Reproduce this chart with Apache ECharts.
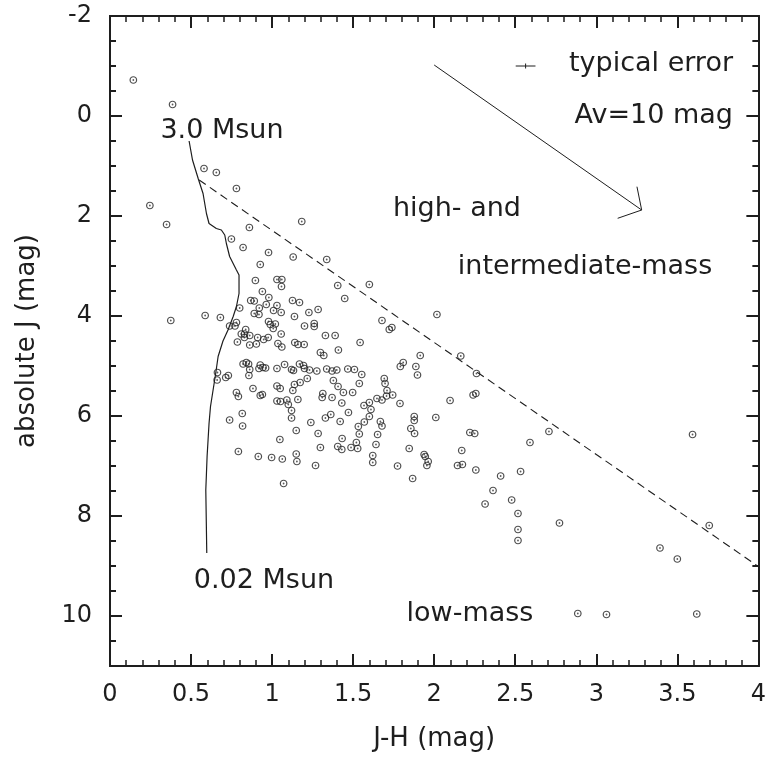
<!DOCTYPE html>
<html><head><meta charset="utf-8">
<script src="https://cdn.jsdelivr.net/npm/echarts@6/dist/echarts.min.js"></script>
<style>html,body{margin:0;padding:0;background:#fff}#c{width:769px;height:760px}</style>
</head><body><div id="c"></div>
<script>
// ---- data ----
const starJH = [
0.144,0.386,0.58,0.656,0.78,0.246,0.349,0.86,1.183,0.375,
0.749,0.821,0.978,1.13,1.337,0.927,1.405,0.897,1.03,1.06,1.058,0.94,0.98,0.868,0.89,0.964,1.03,1.126,1.169,0.921,0.8,0.89,0.919,1.009,1.056,1.227,1.284,1.138,0.587,0.681,0.978,0.989,1.02,1.007,1.056,0.738,0.771,0.78,1.2,1.26,1.26,1.329,1.389,0.837,0.81,0.83,0.862,0.829,0.911,0.948,0.976,0.786,0.862,1.036,1.06,1.14,1.16,1.198,0.903,
1.298,1.319,0.821,0.841,0.855,0.862,0.857,0.927,0.919,0.944,0.96,1.03,1.077,1.12,1.132,1.169,1.194,1.2,1.231,1.276,1.337,0.663,0.661,0.714,0.73,0.78,0.792,0.882,0.927,0.94,1.03,1.05,1.03,1.052,1.091,1.1,1.128,1.138,1.173,1.217,1.159,1.313,1.309,1.12,1.12,0.816,0.738,0.818,1.149,1.239,1.329,1.362,1.284,1.048,1.298,0.792,0.915,0.997,1.063,1.149,1.153,1.268,1.071,
1.6,1.448,2.017,1.678,1.723,1.739,1.543,
1.409,1.914,2.164,2.261,1.37,1.399,1.378,1.407,1.37,1.467,1.508,1.553,1.538,1.44,1.497,1.43,1.471,1.42,1.567,1.6,1.61,1.6,1.569,1.532,1.538,1.432,1.405,1.43,1.487,1.52,1.528,1.641,1.651,1.668,1.678,1.621,1.621,1.647,1.678,1.692,1.697,1.709,1.706,1.744,1.789,1.791,1.809,1.887,1.897,1.774,1.846,1.867,1.856,1.879,1.877,1.877,1.938,1.945,1.963,1.955,2.01,2.098,2.24,2.257,2.17,2.22,2.25,2.144,2.174,2.257,
2.708,2.591,3.594,2.533,2.41,2.363,2.314,2.478,2.517,2.517,2.517,2.773,3.697,3.393,3.5,2.886,3.063,3.62
];
const starAbsJ = [
-0.72,-0.23,1.05,1.13,1.45,1.79,2.17,2.23,2.11,4.09,
2.46,2.63,2.73,2.82,2.87,2.97,3.39,3.29,3.27,3.27,3.41,3.51,3.63,3.69,3.70,3.77,3.79,3.69,3.73,3.84,3.84,3.95,3.97,3.89,3.93,3.93,3.87,4.01,3.99,4.03,4.11,4.17,4.16,4.25,4.36,4.2,4.2,4.13,4.2,4.15,4.21,4.39,4.39,4.27,4.36,4.36,4.39,4.43,4.43,4.47,4.43,4.52,4.58,4.55,4.62,4.53,4.57,4.57,4.56,
4.73,4.79,4.96,4.93,4.96,5.07,5.19,4.98,5.05,5.03,5.04,5.05,4.97,5.07,5.09,4.96,4.99,5.05,5.08,5.1,5.06,5.13,5.28,5.23,5.19,5.53,5.61,5.45,5.59,5.57,5.4,5.45,5.7,5.71,5.68,5.77,5.49,5.37,5.33,5.25,5.67,5.55,5.63,5.89,6.04,5.95,6.08,6.2,6.29,6.13,6.04,5.97,6.35,6.47,6.63,6.71,6.81,6.83,6.86,6.76,6.91,6.99,7.35,
3.37,3.65,3.97,4.09,4.27,4.23,4.53,
4.68,4.79,4.8,5.15,5.1,5.08,5.29,5.41,5.63,5.06,5.07,5.17,5.35,5.53,5.53,5.74,5.93,6.11,5.79,5.73,5.87,6.01,6.12,6.21,6.36,6.45,6.61,6.67,6.63,6.53,6.65,6.57,6.37,6.11,6.2,6.79,6.93,5.65,5.68,5.25,5.35,5.49,5.6,5.58,5.75,5.01,4.93,5.01,5.18,7.0,6.65,7.25,6.25,6.35,6.01,6.09,6.77,6.81,6.91,6.99,6.03,5.69,5.58,5.55,6.69,6.33,6.35,6.99,6.97,7.08,
6.31,6.53,6.37,7.11,7.2,7.49,7.76,7.68,7.95,8.27,8.49,8.14,8.19,8.64,8.86,9.95,9.97,9.96
];
const isoJH = [0.488,0.509,0.544,0.574,0.595,0.611,0.656,0.687,0.708,0.718,0.738,0.78,0.796,0.796,0.78,0.76,0.728,0.697,0.667,0.652,0.636,0.62,0.611,0.605,0.599,0.595,0.591,0.594,0.597];
const isoAbsJ = [0.5,0.88,1.25,1.55,1.95,2.15,2.25,2.28,2.38,2.55,2.81,3.08,3.18,3.55,3.81,4.01,4.28,4.5,4.81,5.15,5.48,5.81,6.15,6.48,6.81,7.15,7.48,8.1,8.74];
const boundaryJH = [0.55, 4.0];
const boundaryAbsJ = [1.28, 9.01];
const avVectorJH = [2.0, 3.28];
const avVectorAbsJ = [-1.02, 1.88];
const arrowHeadJH = [3.251, 3.28, 3.132];
const arrowHeadAbsJ = [1.414, 1.88, 2.046];
const errHorizJH = [2.503, 2.625];
const errHorizAbsJ = [-1.0, -1.0];
const errVertJH = [2.564, 2.564];
const errVertAbsJ = [-1.05, -0.95];
const xTickValues = [0,0.5,1,1.5,2,2.5,3,3.5,4];
const xTickLabels = ['0','0.5','1','1.5','2','2.5','3','3.5','4'];
const yTickValues = [-2,0,2,4,6,8,10];
const yTickLabels = ['-2','0','2','4','6','8','10'];

// ---- build ----
const FONT = 'DejaVu Sans';
const INK = '#1e1e1e';
const zip = (a,b) => a.map((v,i)=>[v,b[i]]);
const xLab = v => { const i = xTickValues.findIndex(t=>Math.abs(t-v)<1e-6); return i<0?'':xTickLabels[i]; };
const yLab = v => { const i = yTickValues.findIndex(t=>Math.abs(t-v)<1e-6); return i<0?'':yTickLabels[i]; };

function xAx(pos, labels){
  return {type:'value', min:0, max:4, interval:0.5, position:pos,
    axisLine:{show:true, onZero:false, lineStyle:{color:INK,width:2}},
    axisTick:{show:true, inside:true, length:12, lineStyle:{color:INK,width:2}},
    minorTick:{show:true, splitNumber:5, length:6, lineStyle:{color:INK,width:1.5}},
    splitLine:{show:false}, minorSplitLine:{show:false},
    axisLabel:{show:labels, formatter:xLab, fontFamily:FONT, fontSize:24, color:INK, margin:17},
    name: labels?'J-H (mag)':'', nameLocation:'middle', nameGap:60,
    nameTextStyle:{fontFamily:FONT, fontSize:26, color:INK}
  };
}
function yAx(pos, interval, tickLen, labels){
  return {type:'value', min:-2, max:11, interval:interval, inverse:true, position:pos,
    axisLine:{show:true, onZero:false, lineStyle:{color:INK,width:2}},
    axisTick:{show:true, inside:true, length:tickLen, lineStyle:{color:INK,width:2}},
    splitLine:{show:false},
    axisLabel:{show:labels, formatter:yLab, fontFamily:FONT, fontSize:24, color:INK, margin:18},
    name: labels?'absolute J (mag)':'', nameLocation:'middle', nameGap:70,
    nameTextStyle:{fontFamily:FONT, fontSize:26, color:INK}
  };
}
const lineS = (data, extra) => Object.assign({type:'line', data:data, symbol:'none', silent:true,
  lineStyle:{color:INK, width:1.2}, xAxisIndex:0, yAxisIndex:0, z:3}, extra||{});

const txt = (x,y,s,align) => ({type:'text', x:x, y:y, silent:true,
  style:{text:s, font:'27px "'+FONT+'"', fill:INK, textAlign:align||'center', textVerticalAlign:'middle'}});

const option = {
  animation:false,
  backgroundColor:'#fff',
  grid:{left:110, top:16, right:9, bottom:94, containLabel:false},
  xAxis:[xAx('bottom',true), xAx('top',false)],
  yAxis:[yAx('left',2,12,true), yAx('left',0.5,6,false), yAx('right',2,12,false), yAx('right',0.5,6,false)],
  series:[
    {type:'scatter', data:zip(starJH,starAbsJ), symbol:'circle', symbolSize:6.5, silent:true,
     itemStyle:{color:'rgba(255,255,255,0)', borderColor:'#222', borderWidth:1.2}, z:4},
    {type:'scatter', data:zip(starJH,starAbsJ), symbol:'circle', symbolSize:1.8, silent:true,
     itemStyle:{color:'#333'}, z:5},
    lineS(zip(isoJH,isoAbsJ)),
    lineS(zip(boundaryJH,boundaryAbsJ), {lineStyle:{color:INK,width:1.1,type:[8,5]}}),
    lineS(zip(avVectorJH,avVectorAbsJ), {lineStyle:{color:INK,width:1}}),
    lineS(zip(arrowHeadJH,arrowHeadAbsJ), {lineStyle:{color:INK,width:1}}),
    lineS(zip(errHorizJH,errHorizAbsJ), {lineStyle:{color:INK,width:1}}),
    lineS(zip(errVertJH,errVertAbsJ), {lineStyle:{color:INK,width:1}})
  ],
  graphic:[
    txt(222,131,'3.0 Msun'),
    txt(264,581,'0.02 Msun'),
    txt(470,614,'low-mass'),
    txt(457,209,'high- and'),
    txt(585,267,'intermediate-mass'),
    txt(733,64,'typical error','right'),
    txt(733,116,'Av=10 mag','right')
  ]
};
const chart = echarts.init(document.getElementById('c'), null, {renderer:'canvas'});
chart.setOption(option);
</script></body></html>
